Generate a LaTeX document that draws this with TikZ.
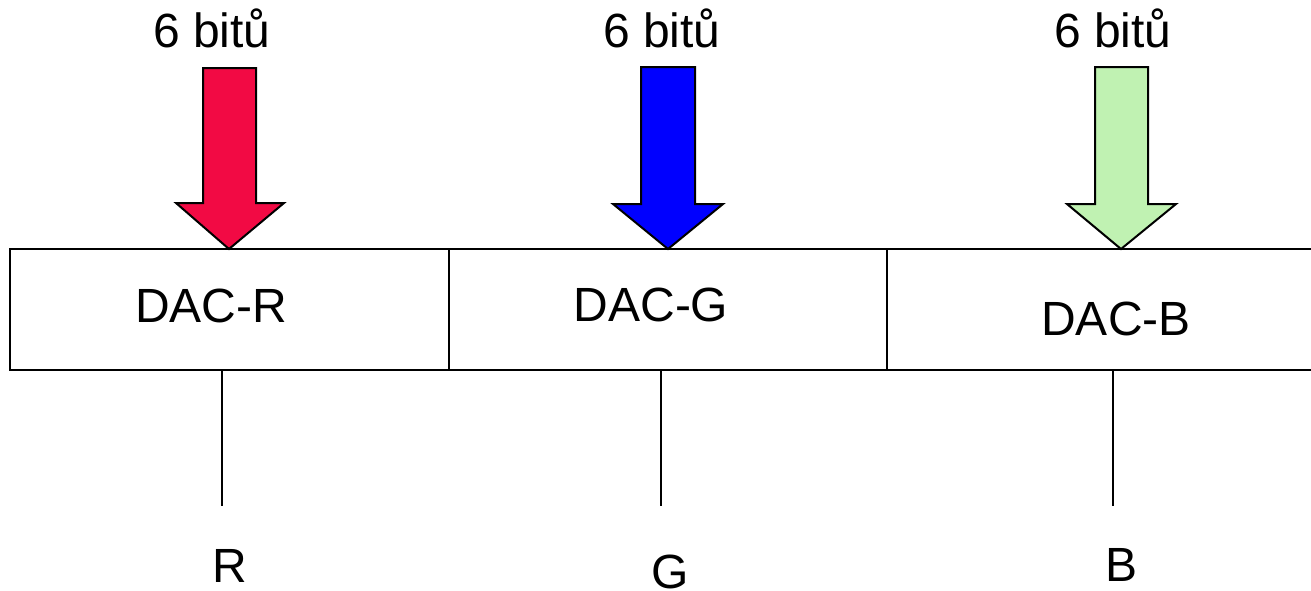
\documentclass[tikz,border=0pt]{standalone}
\usepackage{fontspec}
\setmainfont{Liberation Sans}
\definecolor{arrred}{RGB}{242,10,68}
\definecolor{arrblue}{RGB}{0,0,255}
\definecolor{arrgreen}{RGB}{192,242,178}
\begin{document}
\begin{tikzpicture}[x=1pt,y=-1pt,
  txt/.style={anchor=base,inner sep=0pt,font=\fontsize{48}{52}\selectfont},
  dacbox/.style={draw=black,line width=2pt,minimum height=121pt,inner sep=0pt,outer sep=0pt},
  blockarrow/.style={draw=black,line width=2pt,line join=miter},
  wire/.style={draw=black,line width=2pt}]
\useasboundingbox (0,0) rectangle (1311,590);
\clip (0,0) rectangle (1311,590);
% boxes
\node[dacbox,minimum width=439pt] (bR) at (229.5,309.5) {};
\node[dacbox,minimum width=438pt] (bG) at (668,309.5) {};
\node[dacbox,minimum width=440pt] (bB) at (1107,309.5) {};
% box labels
\node[txt] (lR) at (211,322) {DAC-R};
\node[txt] (lG) at (651,321) {DAC-G};
\node[txt] (lB) at (1116,335) {DAC-B};
% top labels
\node[txt] (tR) at (212,47) {6 bitů};
\node[txt] (tG) at (662,47) {6 bitů};
\node[txt] (tB) at (1113,47) {6 bitů};
% block arrows
\draw[blockarrow,fill=arrred] (203,68) -- (256,68) -- (256,203) -- (284,203) -- (229,249) -- (176,203) -- (203,203) -- cycle;
\draw[blockarrow,fill=arrblue] (641,67) -- (695,67) -- (695,204) -- (723,204) -- (668,249) -- (613,204) -- (641,204) -- cycle;
\draw[blockarrow,fill=arrgreen] (1095,67) -- (1148,67) -- (1148,204) -- (1176,204) -- (1121,249) -- (1067,204) -- (1095,204) -- cycle;
% output wires
\coordinate (eR) at (222,506);
\coordinate (eG) at (661,506);
\coordinate (eB) at (1113,506);
\draw[wire] (bR.south -| eR) -- (eR);
\draw[wire] (bG.south -| eG) -- (eG);
\draw[wire] (bB.south -| eB) -- (eB);
% output labels
\node[txt] (oR) at (230,582) {R};
\node[txt] (oG) at (670,588) {G};
\node[txt] (oB) at (1121,581) {B};
\end{tikzpicture}
\end{document}
